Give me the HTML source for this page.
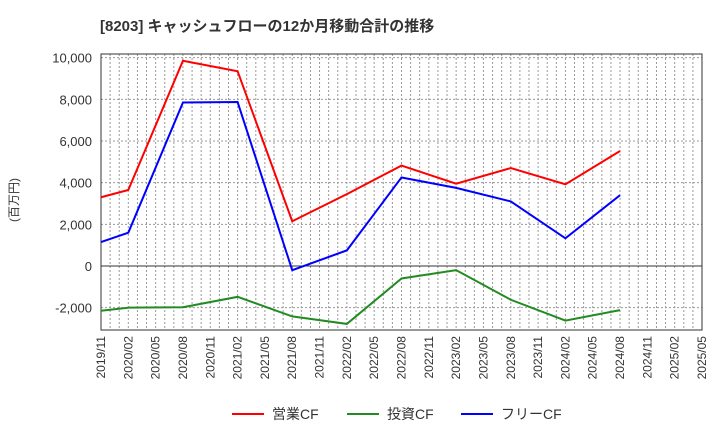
<!DOCTYPE html>
<html><head><meta charset="utf-8"><style>
body{margin:0;background:#fff;font-family:"Liberation Sans","Noto Sans CJK JP",sans-serif}
</style></head><body>
<svg id="c" width="720" height="440" xmlns="http://www.w3.org/2000/svg" font-family="Liberation Sans, Noto Sans CJK JP, sans-serif"></svg>
<script>
const months=["2019/11","2020/02","2020/08","2021/02","2021/08","2022/02","2022/08","2023/02","2023/08","2024/02","2024/08"];
const opCF=[3300,3650,9850,9350,2150,3450,4820,3950,4700,3920,5520];
const invCF=[-2150,-2000,-1980,-1480,-2420,-2780,-600,-200,-1620,-2620,-2120];
const freeCF=[1150,1600,7850,7870,-200,750,4250,3750,3100,1330,3400];
const yTicks=[-2000,0,2000,4000,6000,8000,10000];
const xTicks=["2019/11","2020/02","2020/05","2020/08","2020/11","2021/02","2021/05","2021/08","2021/11","2022/02","2022/05","2022/08","2022/11","2023/02","2023/05","2023/08","2023/11","2024/02","2024/05","2024/08","2024/11","2025/02","2025/05"];
const L=101,R=702,T=54,B=330;
const mi=s=>{const[a,b]=s.split('/').map(Number);return (a-2019)*12+b-11;};
const x=s=>L+(R-L)*mi(s)/66;
const y=v=>266-v*0.020833;
const svg=document.getElementById('c');const NS="http://www.w3.org/2000/svg";
function el(t,a,p){const e=document.createElementNS(NS,t);for(const k in a)e.setAttribute(k,a[k]);(p||svg).appendChild(e);return e;}
const title=el('text',{x:100,y:31,'font-size':15,'font-weight':'bold',fill:'#333'});


title.textContent='[8203]  キャッシュフローの12か月移動合計の推移';
const grid=el('g',{stroke:'#999','stroke-width':1,'stroke-dasharray':'2,2'});


for(let m=1;m<66;m++){const gx=L+(R-L)*m/66;el('line',{x1:gx,x2:gx,y1:T,y2:B},grid);}
yTicks.forEach(v=>{if(v!==0)el('line',{x1:L,x2:R,y1:y(v),y2:y(v)},grid);});
const frame=el('rect',{x:L,y:T,width:R-L,height:B-T,fill:'none',stroke:'#333'});


const zero=el('line',{x1:L,x2:R,y1:y(0),y2:y(0),stroke:'#333'});


yTicks.forEach(v=>{const t=el('text',{x:92,y:y(v)+5,'font-size':13,'text-anchor':'end',fill:'#333'});


t.textContent=v.toLocaleString('en-US');});
xTicks.forEach(s=>{const xx=x(s);const t=el('text',{x:0,y:0,'font-size':12,'text-anchor':'end',fill:'#333',transform:`translate(${xx+4},${B+6}) rotate(-90)`});


t.textContent=s;});
const yt=el('text',{x:0,y:0,'font-size':12,'text-anchor':'middle',fill:'#333',transform:'translate(18,200) rotate(-90)'});


yt.textContent='(百万円)';
[[opCF,'#f00','operating-cf-line'],[invCF,'#228b22','investing-cf-line'],[freeCF,'#00f','free-cf-line']].forEach(([d,c,n])=>{
const p=el('polyline',{points:d.map((v,i)=>x(months[i])+','+y(v)).join(' '),fill:'none',stroke:c,'stroke-width':2});

});
const leg=[['営業CF','#f00',232],['投資CF','#228b22',347],['フリーCF','#00f',461]];
leg.forEach(([t,c,lx])=>{const g=el('g',{});


el('line',{x1:lx,x2:lx+32,y1:414,y2:414,stroke:c,'stroke-width':2},g);
const tx=el('text',{x:lx+40,y:419,'font-size':14,fill:'#333'},g);tx.textContent=t;});
</script>
</body></html>
